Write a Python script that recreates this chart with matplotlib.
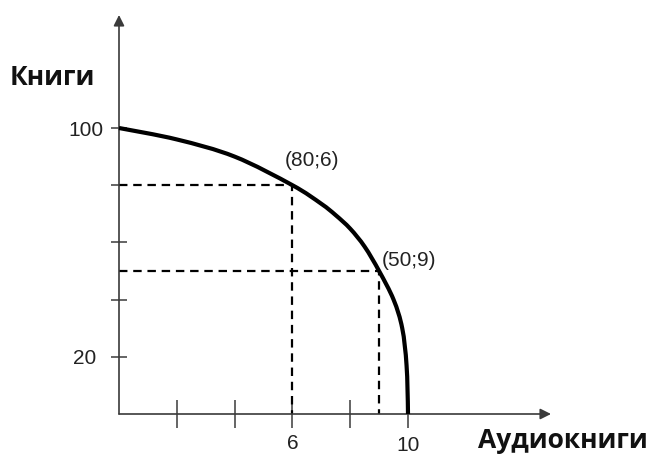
import matplotlib
matplotlib.use("Agg")
import matplotlib.pyplot as plt
from matplotlib.path import Path
from matplotlib.patches import PathPatch

# Data
curve_x = [0, 2, 4, 6, 7, 7.5, 8, 8.5, 9, 9.5, 9.8, 9.95, 10]
curve_y = [100, 96, 90, 80, 73.5, 69.5, 64.8, 58.5, 50, 40, 30, 17, 0]
points_x = [6, 9]
points_y = [80, 50]
point_labels = ["(80;6)", "(50;9)"]
x_ticks = [2, 4, 6, 8, 10]
x_tick_labels = ["", "", "6", "", "10"]
y_ticks = [20, 40, 60, 80, 100]
y_tick_labels = ["20", "", "", "", "100"]
x_title = "Аудиокниги"
y_title = "Книги"

W, H = 654, 455
fig = plt.figure(figsize=(W / 100, H / 100), dpi=100)
ax = fig.add_axes([0, 0, 1, 1])

ox, oy = 119, 414          # origin in pixels
sx, sy = 28.9, 2.86        # pixels per unit
ax.set_xlim(-ox / sx, (W - ox) / sx)
ax.set_ylim(-(H - oy) / sy, oy / sy)

axis_col = "#3a3a3a"
text_col = "#222222"
for s in ["top", "right", "left", "bottom"]:
    ax.spines[s].set_visible(False)

# axes with arrows
x_end = (551 - ox) / sx
y_end = (oy - 15) / sy
for xy in [(x_end, 0), (0, y_end)]:
    ax.annotate("", xy=xy, xytext=(0, 0),
                arrowprops=dict(arrowstyle="-|>", mutation_scale=16, lw=1.2,
                                color=axis_col, shrinkA=0, shrinkB=0))

# ticks
ax.spines["left"].set_position(("data", 0))
ax.spines["bottom"].set_position(("data", 0))
ax.set_xticks(x_ticks)
ax.set_xticklabels(x_tick_labels)
ax.set_yticks(y_ticks)
ax.set_yticklabels(y_tick_labels)
ax.tick_params(axis="x", direction="inout", length=20, width=1.1, color=axis_col,
               labelsize=15, labelcolor=text_col, pad=4.5)
ax.tick_params(axis="y", direction="inout", length=11.5, width=1.1, color=axis_col,
               labelsize=15, labelcolor=text_col, pad=5.5)
for lab in ax.get_xticklabels() + ax.get_yticklabels():
    lab.set_fontfamily("Liberation Sans")
ax.xaxis.get_major_ticks()[4].set_pad(5.5)
ax.yaxis.get_major_ticks()[0].set_pad(10.5)

# dashed guide lines
for px, py in zip(points_x, points_y):
    ax.plot([0, px, px], [py, py, 0], color="black", lw=1.6,
            linestyle=(0, (3.8, 2.6)), dash_capstyle="butt", zorder=2)

# the curve: smooth (Catmull-Rom -> cubic Bezier) through the read points
P = [(x * sx, y * sy) for x, y in zip(curve_x, curve_y)]
n = len(P)
verts = [P[0]]
codes = [Path.MOVETO]
for i in range(n - 1):
    p0 = P[i - 1] if i > 0 else P[i]
    p1 = P[i]
    p2 = P[i + 1]
    p3 = P[i + 2] if i + 2 < n else (p2[0], p2[1] - (p1[1] - p2[1]))
    c1 = (p1[0] + (p2[0] - p0[0]) / 6, p1[1] + (p2[1] - p0[1]) / 6)
    c2 = (p2[0] - (p3[0] - p1[0]) / 6, p2[1] - (p3[1] - p1[1]) / 6)
    verts += [c1, c2, p2]
    codes += [Path.CURVE4] * 3
verts = [(vx / sx, vy / sy) for vx, vy in verts]
ax.add_patch(PathPatch(Path(verts, codes), fill=False, edgecolor="black",
                       lw=3.0, capstyle="butt", joinstyle="round", zorder=3))

# point labels
ax.text(5.74, 88.8, point_labels[0], fontsize=15, family="Liberation Sans",
        color=text_col, ha="left", va="center")
ax.text(9.1, 53.8, point_labels[1], fontsize=15, family="Liberation Sans",
        color=text_col, ha="left", va="center")

# axis titles
fig.text(10 / W, 1 - 77 / H, y_title, fontsize=19, fontweight="bold",
         family="Open Sans", ha="left", va="center", color="#111111")
fig.text(648 / W, 1 - 440 / H, x_title, fontsize=19, fontweight="bold",
         family="Open Sans", ha="right", va="center", color="#111111")

fig.savefig("out.png", dpi=100)
